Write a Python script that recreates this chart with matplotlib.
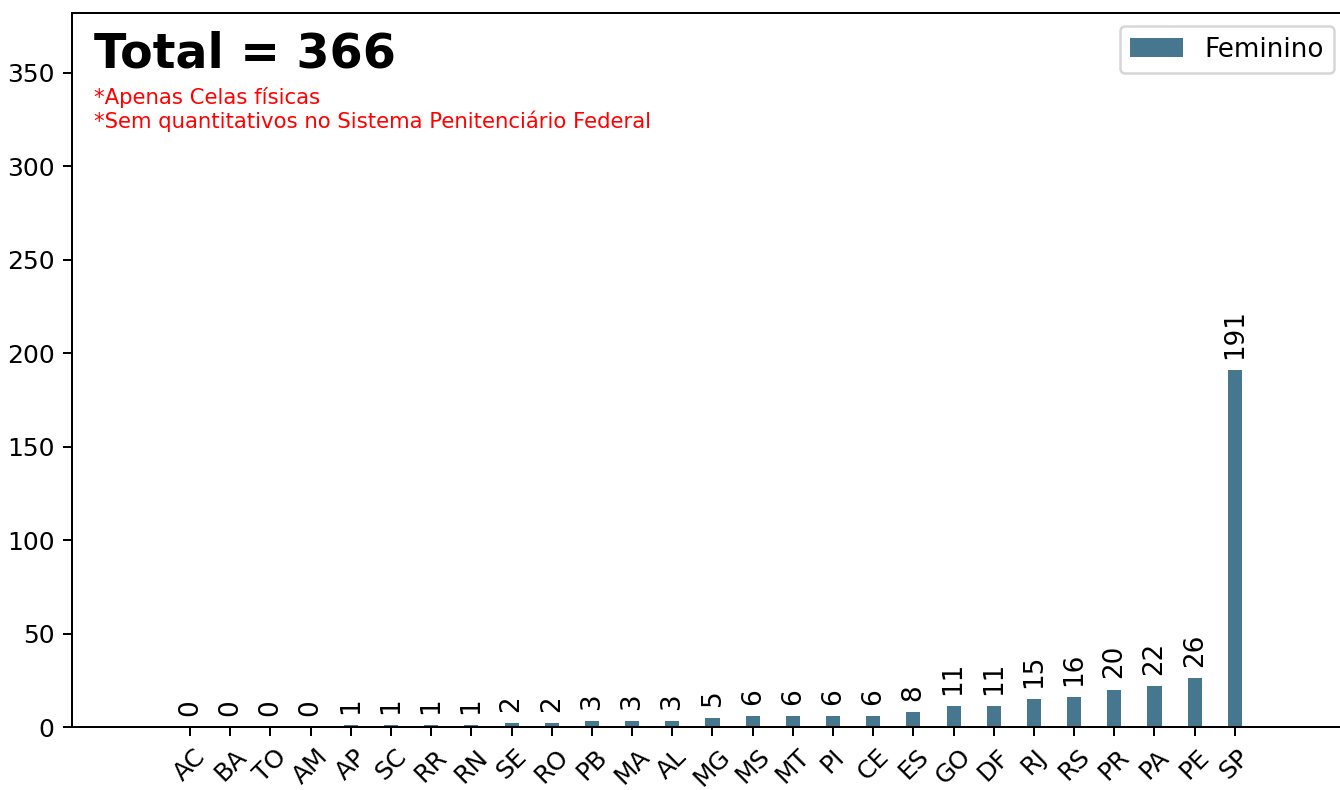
import matplotlib
matplotlib.use('Agg')
from matplotlib import pyplot as plt

ESTADOS = ['AC', 'BA', 'TO', 'AM', 'AP', 'SC', 'RR', 'RN', 'SE', 'RO', 'PB', 'MA', 'AL',
           'MG', 'MS', 'MT', 'PI', 'CE', 'ES', 'GO', 'DF', 'RJ', 'RS', 'PR', 'PA', 'PE', 'SP']
FEMININO = [0, 0, 0, 0, 1, 1, 1, 1, 2, 2, 3, 3, 3,
            5, 6, 6, 6, 6, 8, 11, 11, 15, 16, 20, 22, 26, 191]

BAR_COLOR = '#46778f'
DPI = 180


def plot_celas():
    fig, ax = plt.subplots(figsize=(1340 / DPI, 790 / DPI), dpi=DPI)
    # the right spine sits just past the edge of the picture, as in the original
    fig.subplots_adjust(left=0.0537, right=1.0052, top=0.9835, bottom=0.0797)

    x = list(range(len(ESTADOS)))
    bars = ax.bar(x, FEMININO, width=0.35, color=BAR_COLOR, label='Feminino')

    for rect, value in zip(bars, FEMININO):
        ax.annotate(f'{value}',
                    xy=(rect.get_x() + rect.get_width() / 2, rect.get_height()),
                    xytext=(0, 4.5), textcoords='offset points',
                    ha='center', va='bottom', rotation=90, fontsize=10.5)

    ax.set_xticks(x)
    ax.set_xticklabels(ESTADOS, rotation=45)
    ax.set_xlim(-2.94, 28.79)
    ax.set_ylim(0, max(FEMININO) * 2)

    total = sum(FEMININO)
    ax.annotate(f'Total = {total}', xy=(0, 1), xycoords='axes fraction',
                xytext=(8.8, -7), textcoords='offset points',
                fontsize=19, fontweight='bold', va='top', ha='left')
    ax.annotate('*Apenas Celas físicas\n*Sem quantitativos no Sistema Penitenciário Federal',
                xy=(0, 1), xycoords='axes fraction',
                xytext=(8.8, -29.5), textcoords='offset points',
                fontsize=8.5, color='red', va='top', ha='left', linespacing=1.15)

    ax.legend(loc='upper right', fontsize=10.5)

    fig.savefig('out.png', dpi=DPI)


plot_celas()
